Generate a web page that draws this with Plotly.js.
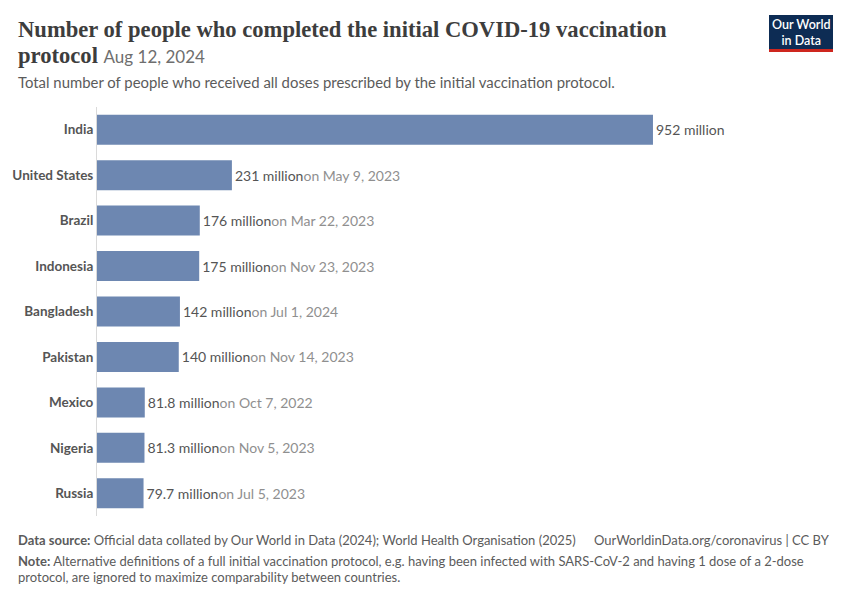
<!DOCTYPE html>
<html>
<head>
<meta charset="utf-8">
<script src="https://cdn.plot.ly/plotly-3.0.1.min.js"></script>
<style>
  html, body { margin: 0; padding: 0; background: #fff; }
  #chart { width: 850px; height: 600px; }
</style>
</head>
<body>
<div id="chart"></div>
<script>
// Data
const countries = ["India", "United States", "Brazil", "Indonesia", "Bangladesh",
                   "Pakistan", "Mexico", "Nigeria", "Russia"];
const valuesMillion = [952, 231, 176, 175, 142, 140, 81.8, 81.3, 79.7];
const valueLabels = ["952 million", "231 million", "176 million", "175 million", "142 million",
                     "140 million", "81.8 million", "81.3 million", "79.7 million"];
const dateLabels = ["", "on May 9, 2023", "on Mar 22, 2023", "on Nov 23, 2023", "on Jul 1, 2024",
                    "on Nov 14, 2023", "on Oct 7, 2022", "on Nov 5, 2023", "on Jul 5, 2023"];

const W = 850, H = 600;
const M = { l: 97, r: 20, t: 107, b: 84 };

// pixel -> paper helpers for the page furniture (titles, logo, footer)
function px(x) { return (x - M.l) / (W - M.l - M.r); }
function py(y) { return 1 - (y - M.t) / (H - M.t - M.b); }

const barText = valueLabels.map(function (v, i) {
    return dateLabels[i]
        ? v + '<span style="color:#8f8f8f">' + dateLabels[i] + '</span>'
        : v;
});

const trace = {
    type: 'bar',
    orientation: 'h',
    y: countries,
    x: valuesMillion,
    text: barText,
    textposition: 'outside',
    cliponaxis: false,
    textfont: { family: 'Lato', size: 14, color: '#555555' },
    marker: { color: '#6d87b1' },
    hoverinfo: 'none'
};

const grey = '#5b5b5b';
const annotations = [
    {
        text: 'Number of people who completed the initial COVID-19 vaccination',
        x: px(16), y: py(29), xanchor: 'left', yanchor: 'middle',
        font: { family: 'Liberation Serif', size: 22.6, color: '#3d3d3d', weight: 'bold' }
    },
    {
        text: 'protocol <span style="font-family:Lato;font-size:17px;font-weight:normal;color:#6e6e6e">Aug 12, 2024</span>',
        x: px(16), y: py(55), xanchor: 'left', yanchor: 'middle',
        font: { family: 'Liberation Serif', size: 22.6, color: '#3d3d3d', weight: 'bold' }
    },
    {
        text: 'Total number of people who received all doses prescribed by the initial vaccination protocol.',
        x: px(16), y: py(82), xanchor: 'left', yanchor: 'middle',
        font: { family: 'Lato', size: 14.9, color: grey }
    },
    {
        text: '<b>Data source:</b> Official data collated by Our World in Data (2024); World Health Organisation (2025)',
        x: px(16), y: py(540), xanchor: 'left', yanchor: 'middle',
        font: { family: 'Lato', size: 13, color: grey }
    },
    {
        text: 'OurWorldinData.org/coronavirus | CC BY',
        x: px(832), y: py(540), xanchor: 'right', yanchor: 'middle',
        font: { family: 'Lato', size: 13, color: grey }
    },
    {
        text: '<b>Note:</b> Alternative definitions of a full initial vaccination protocol, e.g. having been infected with SARS-CoV-2 and having 1 dose of a 2-dose',
        x: px(16), y: py(561), xanchor: 'left', yanchor: 'middle',
        font: { family: 'Lato', size: 13, color: grey }
    },
    {
        text: 'protocol, are ignored to maximize comparability between countries.',
        x: px(16), y: py(577), xanchor: 'left', yanchor: 'middle',
        font: { family: 'Lato', size: 13, color: grey }
    },
    {
        text: 'Our World<br>in Data',
        x: px(801), y: py(32), xanchor: 'center', yanchor: 'middle', align: 'center',
        font: { family: 'Lato', size: 12.5, color: '#ffffff', weight: 600 }
    }
].map(function (a) {
    return Object.assign({ xref: 'paper', yref: 'paper', showarrow: false, align: 'left' }, a);
});

const shapes = [
    { type: 'rect', xref: 'paper', yref: 'paper', x0: px(769), x1: px(833), y0: py(15), y1: py(49),
      fillcolor: '#0d2c54', line: { width: 0 } },
    { type: 'rect', xref: 'paper', yref: 'paper', x0: px(769), x1: px(833), y0: py(49), y1: py(52),
      fillcolor: '#ce261e', line: { width: 0 } }
];

const layout = {
    width: W, height: H,
    margin: M,
    paper_bgcolor: '#fff',
    plot_bgcolor: '#fff',
    showlegend: false,
    bargap: 0.34,
    xaxis: {
        range: [0, (W - M.l - M.r) / 0.584],
        showgrid: false, zeroline: false, showticklabels: false, showline: false, fixedrange: true
    },
    yaxis: {
        autorange: 'reversed',
        showgrid: false, zeroline: false,
        showline: true, linecolor: '#dadada', linewidth: 1,
        ticks: '', ticklen: 0,
        tickfont: { family: 'Lato', size: 13.5, color: '#555555', weight: 'bold' },
        fixedrange: true
    },
    annotations: annotations,
    shapes: shapes
};

Plotly.newPlot('chart', [trace], layout, { displayModeBar: false, staticPlot: true });
</script>
</body>
</html>
